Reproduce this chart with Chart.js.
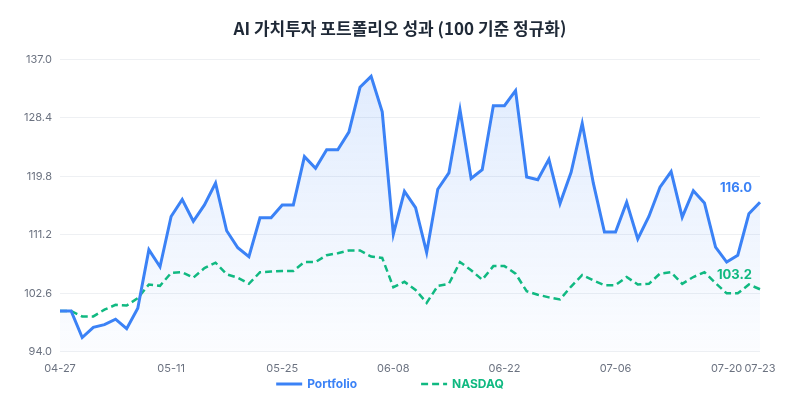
<!DOCTYPE html>
<html lang="ko">
<head>
<meta charset="utf-8">
<title>AI 가치투자 포트폴리오 성과</title>
<script src="https://cdn.jsdelivr.net/npm/chart.js@4.4.1/dist/chart.umd.min.js"></script>
<style>
	html, body { margin: 0; padding: 0; background: #fff; }
</style>
</head>
<body>
<canvas id="perfChart" width="800" height="400"></canvas>
<script>
const labels = [
	"04-27", "04-28", "04-29", "04-30", "05-01",
	"05-04", "05-05", "05-06", "05-07", "05-08",
	"05-11", "05-12", "05-13", "05-14", "05-15",
	"05-18", "05-19", "05-20", "05-21", "05-22",
	"05-25", "05-26", "05-27", "05-28", "05-29",
	"06-01", "06-02", "06-03", "06-04", "06-05",
	"06-08", "06-09", "06-10", "06-11", "06-12",
	"06-15", "06-16", "06-17", "06-18", "06-19",
	"06-22", "06-23", "06-24", "06-25", "06-26",
	"06-29", "06-30", "07-01", "07-02", "07-03",
	"07-06", "07-07", "07-08", "07-09", "07-10",
	"07-13", "07-14", "07-15", "07-16", "07-17",
	"07-20", "07-21", "07-22", "07-23",
];

const portfolio = [
	100.0, 100.0, 96.1, 97.6, 98.0, 98.8, 97.4, 100.4, 109.0, 106.5,
	113.9, 116.4, 113.2, 115.6, 118.8, 111.8, 109.3, 108.0, 113.7, 113.7,
	115.6, 115.6, 122.7, 121.0, 123.7, 123.7, 126.3, 132.9, 134.5, 129.3,
	111.3, 117.6, 115.2, 108.6, 117.9, 120.3, 129.6, 119.5, 120.8, 130.2,
	130.2, 132.4, 119.7, 119.3, 122.3, 115.8, 120.4, 127.6, 118.8, 111.6,
	111.6, 116.0, 110.6, 113.9, 118.2, 120.5, 113.8, 117.7, 115.9, 109.4,
	107.2, 108.2, 114.3, 116.0,
];

const nasdaq = [
	100.0, 100.0, 99.2, 99.2, 100.2, 100.9, 100.8, 101.9, 103.9, 103.7,
	105.6, 105.7, 104.9, 106.3, 107.1, 105.4, 104.9, 104.0, 105.7, 105.8,
	105.9, 105.9, 107.2, 107.2, 108.2, 108.5, 108.9, 108.9, 108.0, 107.8,
	103.5, 104.3, 103.1, 101.2, 103.7, 104.0, 107.2, 106.0, 104.6, 106.6,
	106.6, 105.5, 102.9, 102.4, 102.0, 101.7, 103.6, 105.3, 104.5, 103.8,
	103.8, 105.0, 103.9, 104.0, 105.5, 105.7, 104.0, 105.0, 105.7, 104.1,
	102.6, 102.6, 103.9, 103.2,
];

const yTicks = [94.0, 102.6, 111.2, 119.8, 128.4, 137.0];
const xTickEvery = 10;

const BLUE = "#3b82f6";
const GREEN = "#10b981";
const TICK_COLOR = "#6b7280";

// last value written next to the end of each line
const endLabels = {
	id: "endLabels",
	afterDatasetsDraw(chart) {
		const { ctx } = chart;
		chart.data.datasets.forEach((ds, i) => {
			const meta = chart.getDatasetMeta(i);
			const last = meta.data[meta.data.length - 1];
			if (!last) return;
			ctx.save();
			ctx.font = "bold 13px Inter, sans-serif";
			ctx.fillStyle = ds.borderColor;
			ctx.textAlign = "right";
			ctx.textBaseline = "middle";
			ctx.fillText(ds.data[ds.data.length - 1].toFixed(1), last.x - 8, last.y - 14);
			ctx.restore();
		});
	},
};

// legend with line samples, wider spacing than the built-in one
const lineLegend = {
	id: "lineLegend",
	afterDraw(chart) {
		const { ctx } = chart;
		const sets = chart.data.datasets;
		const sample = 26;
		const gap = 64;
		ctx.save();
		ctx.font = "bold 12px Inter, sans-serif";
		const widths = sets.map((ds) => sample + 5 + ctx.measureText(ds.label).width);
		const total = widths.reduce((a, b) => a + b, 0) + gap * (sets.length - 1);
		let x = chart.width / 2 - 10 - total / 2;
		const y = chart.height - 16;
		sets.forEach((ds, i) => {
			ctx.strokeStyle = ds.borderColor;
			ctx.lineWidth = ds.borderWidth;
			ctx.setLineDash(ds.borderDash || []);
			ctx.beginPath();
			ctx.moveTo(x, y);
			ctx.lineTo(x + sample, y);
			ctx.stroke();
			ctx.setLineDash([]);
			ctx.fillStyle = ds.borderColor;
			ctx.textAlign = "left";
			ctx.textBaseline = "middle";
			ctx.fillText(ds.label, x + sample + 5, y);
			x += widths[i] + gap;
		});
		ctx.restore();
	},
};

function areaFill(context) {
	const { chart } = context;
	const { chartArea } = chart;
	if (!chartArea) return "rgba(59, 130, 246, 0.08)";
	const g = chart.ctx.createLinearGradient(0, chartArea.top, 0, chartArea.bottom);
	g.addColorStop(0, "rgba(59, 130, 246, 0.16)");
	g.addColorStop(1, "rgba(59, 130, 246, 0.02)");
	return g;
}

const ctx = document.getElementById("perfChart").getContext("2d");

new Chart(ctx, {
	type: "line",
	data: {
		labels,
		datasets: [
			{
				label: "Portfolio",
				data: portfolio,
				borderColor: BLUE,
				borderWidth: 3,
				backgroundColor: areaFill,
				fill: "start",
				tension: 0,
				pointRadius: 0,
				pointHoverRadius: 0,
			},
			{
				label: "NASDAQ",
				data: nasdaq,
				borderColor: GREEN,
				borderWidth: 2.5,
				borderDash: [7, 4],
				fill: false,
				tension: 0,
				pointRadius: 0,
				pointHoverRadius: 0,
			},
		],
	},
	options: {
		responsive: false,
		animation: false,
		layout: {
			padding: { top: 0, left: 22, right: 22, bottom: 15 },
		},
		plugins: {
			legend: { display: false },
			tooltip: { enabled: false },
			filler: { drawTime: "beforeDatasetsDraw" },
			title: {
				display: true,
				text: "AI 가치투자 포트폴리오 성과 (100 기준 정규화)",
				color: "#1f2937",
				font: { family: "'Noto Sans CJK KR', sans-serif", size: 17, weight: "bold" },
				padding: { top: 18, bottom: 21 },
			},
		},
		scales: {
			x: {
				grid: { display: false, drawTicks: false },
				border: { display: false },
				ticks: {
					autoSkip: false,
					maxRotation: 0,
					minRotation: 0,
					padding: 10,
					color: TICK_COLOR,
					font: { family: "Inter", size: 11 },
					callback: (value, index) =>
						index % xTickEvery === 0 || index === labels.length - 1 ? labels[index] : null,
				},
			},
			y: {
				min: 94,
				max: 137,
				afterBuildTicks: (axis) => {
					axis.ticks = yTicks.map((value) => ({ value }));
				},
				afterFit: (axis) => {
					axis.width = 38;
				},
				grid: { color: "#eef0f3", drawTicks: false },
				border: { display: false },
				ticks: {
					padding: 8,
					color: TICK_COLOR,
					font: { family: "Inter", size: 11 },
					callback: (value) => Number(value).toFixed(1),
				},
			},
			// empty axis on the right, only keeps the plot off the right edge
			ySpacer: {
				type: "linear",
				position: "right",
				grid: { display: false },
				border: { display: false },
				ticks: { display: false },
				afterFit: (axis) => {
					axis.width = 18;
				},
			},
		},
	},
	plugins: [endLabels, lineLegend],
});
</script>
</body>
</html>
